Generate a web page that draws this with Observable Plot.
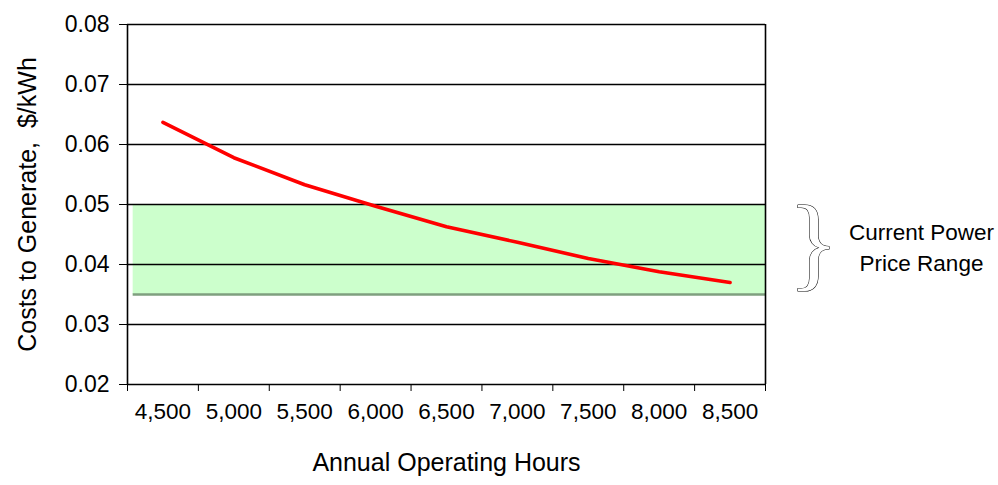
<!DOCTYPE html>
<html>
<head>
<meta charset="utf-8">
<script src="https://cdn.jsdelivr.net/npm/d3@7"></script>
<script src="https://cdn.jsdelivr.net/npm/@observablehq/plot@0.6"></script>
<style>
  html, body { margin: 0; padding: 0; background: #fff; }
  #chart svg { display: block; }
  #chart svg g[aria-label="y-axis tick label"] { font-size: 23px; }
  #chart svg g[aria-label="x-axis tick label"] { font-size: 22.5px; }
</style>
</head>
<body>
<div id="chart"></div>
<script>
// Data
const hours = [4500, 5000, 5500, 6000, 6500, 7000, 7500, 8000, 8500];
const costs = [0.0637, 0.0578, 0.0533, 0.0497, 0.0463, 0.0437, 0.0410, 0.0388, 0.0370];
const yTicks = [0.02, 0.03, 0.04, 0.05, 0.06, 0.07, 0.08];
const xBoundaries = [4250, 4750, 5250, 5750, 6250, 6750, 7250, 7750, 8250, 8750];
const priceRange = { low: 0.035, high: 0.05, start: 4290, end: 8750 };
const xTitle = "Annual Operating Hours";
const yTitle = "Costs to Generate,  $/kWh";
const note = "Current Power\nPrice Range";

const data = hours.map((h, i) => ({ hours: h, cost: costs[i] }));
const font = "'Liberation Sans', Arial, sans-serif";
const mid = (priceRange.low + priceRange.high) / 2;

const chart = Plot.plot({
  width: 998,
  height: 485,
  marginLeft: 127,
  marginRight: 233,
  marginTop: 24,
  marginBottom: 101,
  style: { fontFamily: font, color: "#000", background: "#fff" },
  x: { domain: [xBoundaries[0], xBoundaries[xBoundaries.length - 1]] },
  y: { domain: [0.02, 0.08] },
  marks: [
    // price band
    Plot.rect([priceRange], { x1: "start", x2: "end", y1: "low", y2: "high", fill: "#ccffcc" }),
    Plot.ruleY([priceRange], { y: "low", x1: "start", x2: "end", stroke: "#7f9f7f", strokeWidth: 2.5 }),
    // grid lines
    Plot.ruleY(yTicks, { stroke: "#000", strokeWidth: 1.3 }),
    Plot.ruleX([xBoundaries[0], xBoundaries[xBoundaries.length - 1]], { stroke: "#000", strokeWidth: 1.6 }),
    // axes
    Plot.axisY({ ticks: yTicks, tickFormat: d3.format(".2f"), tickSize: 8, tickPadding: 10, fontSize: 23, label: null }),
    Plot.axisX({ ticks: xBoundaries, tickFormat: () => "", tickSize: 7, label: null }),
    Plot.axisX({ ticks: hours, tickFormat: d3.format(","), tickSize: 0, tickPadding: 19, fontSize: 22.5, label: null }),
    // the line
    Plot.line(data, { x: "hours", y: "cost", stroke: "#ff0000", strokeWidth: 3.6, strokeLinecap: "round", strokeLinejoin: "round" }),
    // titles
    Plot.text([xTitle], { frameAnchor: "bottom", textAnchor: "middle", dy: 86, fontSize: 25, fill: "#000" }),
    Plot.text([yTitle], { frameAnchor: "left", textAnchor: "middle", rotate: -90, dx: -100, fontSize: 25, fill: "#000" }),
    // annotation
    Plot.text(["}"], { frameAnchor: "right", textAnchor: "middle", y: [mid], dx: 48, dy: -6, fontSize: 104, fill: "#fff", stroke: "#000", strokeWidth: 1.1, fontFamily: "'Liberation Serif', serif", clip: false }),
    Plot.text([note], { frameAnchor: "right", textAnchor: "middle", y: [mid], dx: 156, dy: -4, fontSize: 22.5, lineHeight: 1.4, fill: "#000", clip: false })
  ]
});
document.getElementById("chart").appendChild(chart);
</script>
</body>
</html>
